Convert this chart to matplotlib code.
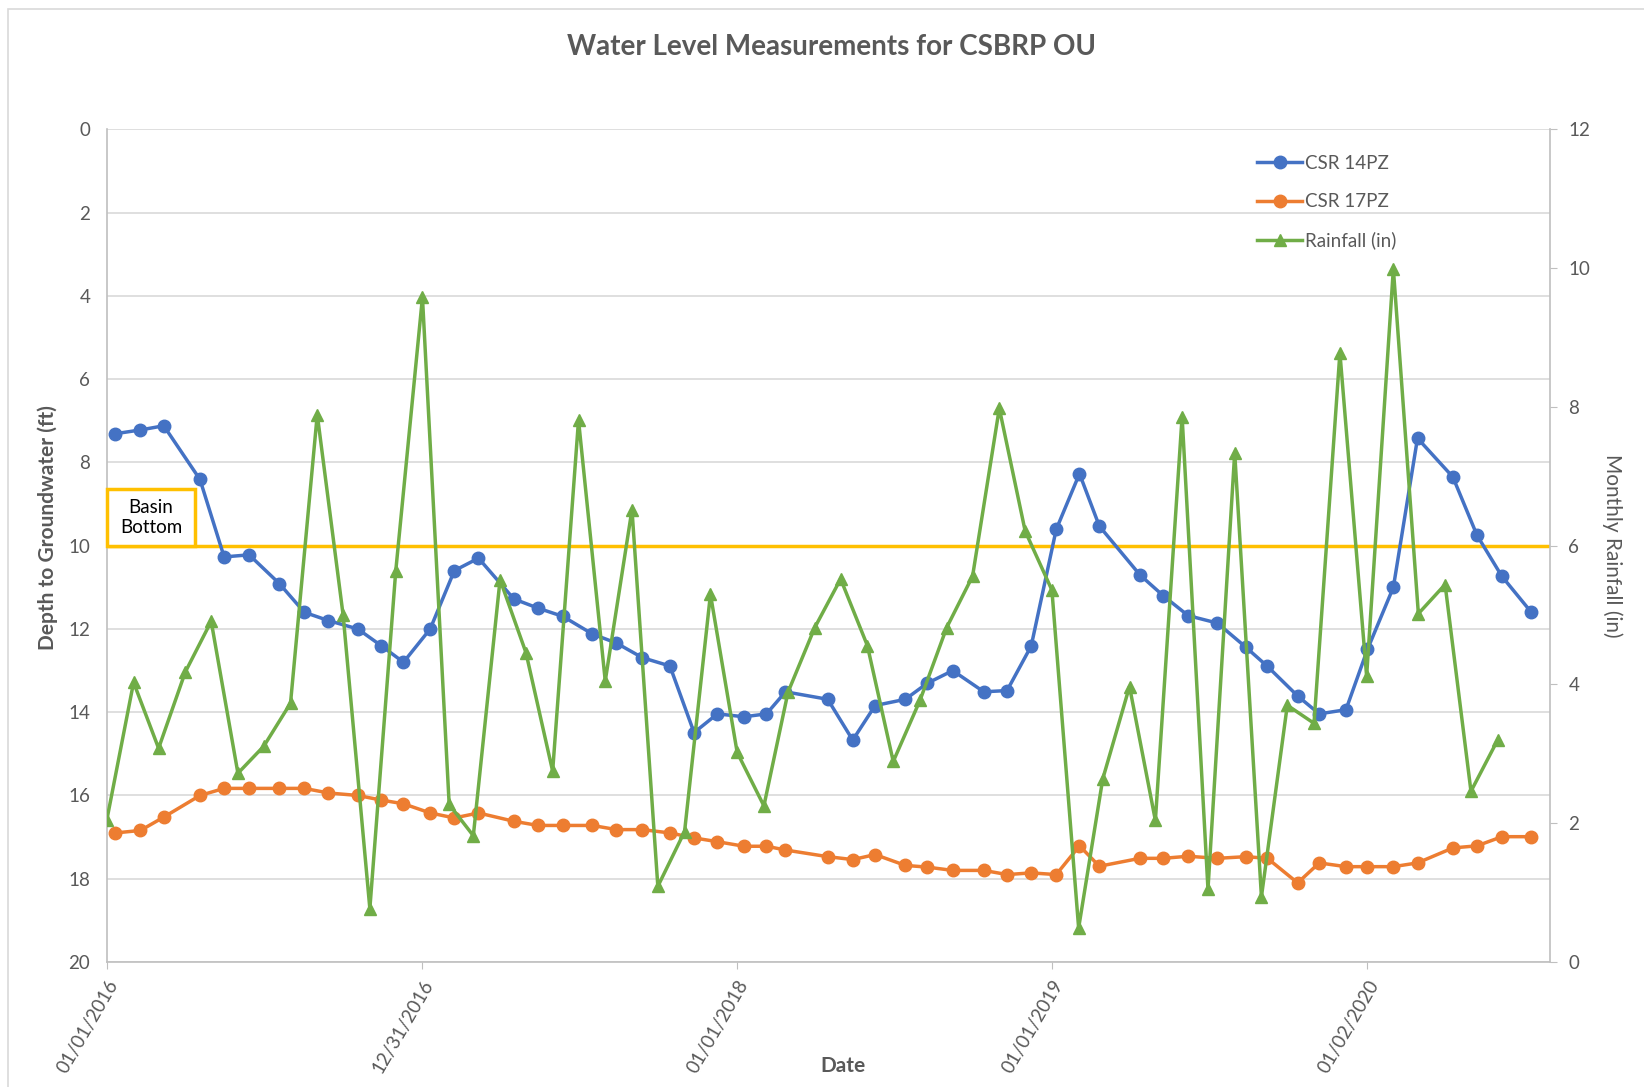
import numpy as np
import pandas as pd
import matplotlib
matplotlib.use("Agg")
import matplotlib.pyplot as plt
import matplotlib.dates as mdates
from matplotlib.lines import Line2D
from matplotlib.patches import Rectangle

plt.rcParams['font.family'] = ['Lato', 'DejaVu Sans']

# measurement dates (both wells sampled on the same days)
meas_dates = pd.to_datetime([
    '2016-01-11', '2016-02-09', '2016-03-07', '2016-04-18', '2016-05-16',
    '2016-06-14', '2016-07-19', '2016-08-17', '2016-09-14', '2016-10-18',
    '2016-11-14', '2016-12-10', '2017-01-10', '2017-02-07', '2017-03-07',
    '2017-04-17', '2017-05-15', '2017-06-13', '2017-07-17', '2017-08-14',
    '2017-09-13', '2017-10-15', '2017-11-12', '2017-12-09', '2018-01-09',
    '2018-02-04', '2018-02-26', '2018-04-16', '2018-05-15', '2018-06-10',
    '2018-07-15', '2018-08-09', '2018-09-08', '2018-10-14', '2018-11-10',
    '2018-12-08', '2019-01-06', '2019-02-02', '2019-02-25', '2019-04-13',
    '2019-05-10', '2019-06-08', '2019-07-12', '2019-08-14', '2019-09-08',
    '2019-10-13', '2019-11-07', '2019-12-08', '2020-01-02', '2020-02-01',
    '2020-02-29', '2020-04-10', '2020-05-08', '2020-06-06', '2020-07-10',
])

csr14 = [7.31, 7.22, 7.12, 8.41, 10.27, 10.22, 10.91, 11.60, 11.80, 12.00,
         12.40, 12.80, 12.00, 10.60, 10.30, 11.28, 11.50, 11.70, 12.12, 12.34,
         12.69, 12.89, 14.49, 14.04, 14.11, 14.04, 13.51, 13.69, 14.67, 13.84,
         13.69, 13.31, 13.00, 13.51, 13.48, 12.41, 9.61, 8.27, 9.53, 10.70,
         11.20, 11.68, 11.86, 12.44, 12.90, 13.61, 14.04, 13.94, 12.49, 11.00,
         7.42, 8.35, 9.75, 10.74, 11.60]

csr17 = [16.90, 16.84, 16.52, 16.00, 15.83, 15.83, 15.83, 15.83, 15.94, 16.00,
         16.11, 16.20, 16.42, 16.54, 16.42, 16.62, 16.72, 16.72, 16.72, 16.82,
         16.82, 16.90, 17.02, 17.11, 17.22, 17.22, 17.31, 17.47, 17.54, 17.42,
         17.68, 17.72, 17.80, 17.80, 17.90, 17.86, 17.90, 17.21, 17.70, 17.51,
         17.51, 17.46, 17.51, 17.47, 17.51, 18.10, 17.62, 17.71, 17.71, 17.71,
         17.62, 17.26, 17.21, 16.99, 16.99]

# monthly rainfall, Jan 2016 - Jun 2020
rain_dates = pd.date_range('2016-01-01', periods=54, freq='MS')
rainfall = [2.05, 4.03, 3.08, 4.18, 4.91, 2.72, 3.11, 3.73, 7.89, 5.00,
            0.77, 5.63, 9.58, 2.27, 1.82, 5.51, 4.46, 2.75, 7.81, 4.05,
            6.52, 1.09, 1.88, 5.30, 3.02, 2.25, 3.89, 4.82, 5.52, 4.56,
            2.89, 3.77, 4.82, 5.56, 7.98, 6.21, 5.36, 0.49, 2.64, 3.97,
            2.04, 7.86, 1.05, 7.34, 0.94, 3.70, 3.44, 8.78, 4.12, 9.99,
            5.02, 5.44, 2.46, 3.20]

basin_bottom = 10
tick_dates = pd.to_datetime(['2016-01-01', '2016-12-31', '2018-01-01',
                             '2019-01-01', '2020-01-02'])

BLUE = '#4472C4'
ORANGE = '#ED7D31'
GREEN = '#70AD47'
GOLD = '#FFC000'
TXT = '#595959'
GRID = '#D9D9D9'

fig = plt.figure(figsize=(16.44, 10.87), dpi=100)
ax = fig.add_axes([0.065, 0.115, 0.878, 0.766])

# chart border
fig.add_artist(Rectangle((0.005, -0.01), 1.2, 1.002, transform=fig.transFigure,
                         fill=False, edgecolor='#D9D9D9', lw=1.2))

ax.axhline(basin_bottom, color=GOLD, lw=2.5, zorder=2)
ax.plot(meas_dates, csr14, '-o', color=BLUE, lw=2.5, ms=9, zorder=3)
ax.plot(meas_dates, csr17, '-o', color=ORANGE, lw=2.5, ms=9, zorder=3)

ax.set_ylim(20, 0)
ax.set_yticks(np.arange(0, 21, 2))
ax.set_xlim(pd.Timestamp('2016-01-01'), pd.Timestamp('2020-08-01'))
ax.set_xticks(tick_dates)
ax.xaxis.set_major_formatter(mdates.DateFormatter('%m/%d/%Y'))
ax.grid(axis='y', color=GRID, lw=1.2)
ax.set_axisbelow(True)

for lab in ax.get_xticklabels():
    lab.set_rotation(60)
    lab.set_ha('right')
    lab.set_va('top')
    lab.set_rotation_mode('anchor')

ax.tick_params(axis='y', length=0, pad=12, labelsize=13.5, labelcolor=TXT)
ax.tick_params(axis='x', length=5, color='#BFBFBF', pad=6, labelsize=13.5,
               labelcolor=TXT)
for s in ['top', 'right']:
    ax.spines[s].set_visible(False)
for s in ['left', 'bottom']:
    ax.spines[s].set_color('#BFBFBF')
    ax.spines[s].set_linewidth(1.2)

ax.set_ylabel('Depth to Groundwater (ft)', fontsize=15, fontweight='bold',
              color=TXT)
ax.yaxis.set_label_coords(-0.034, 0.522)
ax.set_xlabel('Date', fontsize=15, fontweight='bold', color=TXT)
ax.xaxis.set_label_coords(0.51, -0.113)

ax2 = ax.twinx()
ax2.plot(rain_dates, rainfall, '-^', color=GREEN, lw=2.5, ms=9, zorder=4)
ax2.set_ylim(0, 12)
ax2.set_yticks(np.arange(0, 13, 2))
ax2.tick_params(axis='y', length=5, color='#BFBFBF', pad=8, labelsize=13.5,
                labelcolor=TXT)
for s in ['top', 'left', 'bottom']:
    ax2.spines[s].set_visible(False)
ax2.spines['right'].set_color('#BFBFBF')
ax2.spines['right'].set_linewidth(1.2)
ax2.set_ylabel('Monthly Rainfall (in)', fontsize=15, color=TXT, rotation=270,
               va='bottom')
ax2.yaxis.set_label_coords(1.036, 0.5)

# basin bottom label box
ax2.add_patch(Rectangle((0.0, 0.5), 0.061, 0.0675, transform=ax.transAxes,
                        facecolor='white', edgecolor=GOLD, lw=2.5, zorder=5,
                        clip_on=False))
ax2.text(0.0305, 0.534, 'Basin\nBottom', transform=ax.transAxes, ha='center',
         va='center', fontsize=13.5, color='black', zorder=6, linespacing=1.25)

handles = [Line2D([], [], color=BLUE, marker='o', lw=2.5, ms=9),
           Line2D([], [], color=ORANGE, marker='o', lw=2.5, ms=9),
           Line2D([], [], color=GREEN, marker='^', lw=2.5, ms=9)]
leg = ax2.legend(handles, ['CSR 14PZ', 'CSR 17PZ', 'Rainfall (in)'],
                 loc='upper right', bbox_to_anchor=(0.905, 0.99), frameon=False,
                 fontsize=13.5, labelspacing=1.15, handlelength=2.4,
                 handletextpad=0.15)
for t in leg.get_texts():
    t.set_color(TXT)

fig.text(0.506, 0.957, 'Water Level Measurements for CSBRP OU', ha='center',
         va='center', fontsize=20, fontweight='bold', color=TXT)

fig.savefig('out.png', dpi=100)
